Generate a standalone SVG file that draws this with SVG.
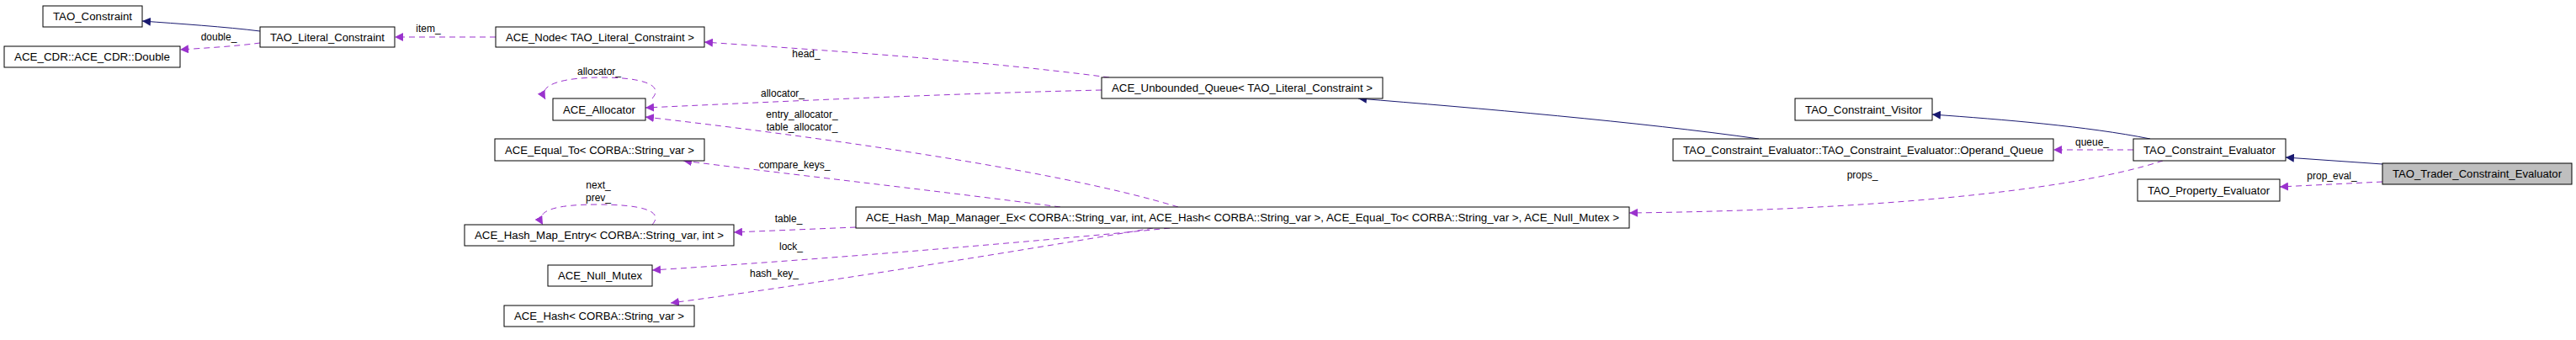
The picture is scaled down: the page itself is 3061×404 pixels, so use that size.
<svg xmlns="http://www.w3.org/2000/svg" width="3061" height="404" viewBox="0 0 3061 404">
<style>
.n rect{fill:#fff;stroke:#000;stroke-width:1}
.n text{font-family:"Liberation Sans",Arial,sans-serif;font-size:12px;text-anchor:middle}
.l{font-family:"Liberation Sans",Arial,sans-serif;font-size:12px;text-anchor:middle}
.s{fill:none;stroke:#191970;stroke-width:1}
.d{fill:none;stroke:#9a32cd;stroke-width:1;stroke-dasharray:7,5}
</style>
<defs>
<marker id="an" viewBox="0 0 10 10" refX="10" refY="5" markerWidth="10" markerHeight="10" markerUnits="userSpaceOnUse" orient="auto"><path d="M0,0L10,5L0,10z" fill="#191970"/></marker>
<marker id="ap" viewBox="0 0 10 10" refX="10" refY="5" markerWidth="10" markerHeight="10" markerUnits="userSpaceOnUse" orient="auto"><path d="M0,0L10,5L0,10z" fill="#9a32cd"/></marker>
</defs>
<rect width="3061" height="404" fill="#fff"/>
<g id="edges">
<path class="s" marker-end="url(#an)" d="M309,37 C270,32 210,28 169,25"/>
<path class="d" marker-end="url(#ap)" d="M309,51 C280,55 245,57 214,59"/>
<path class="d" marker-end="url(#ap)" d="M589,44 L469,44"/>
<path class="d" marker-end="url(#ap)" d="M1318,92 C1150,70 950,58 837,50"/>
<path class="d" marker-end="url(#ap)" d="M775,117 C790,100 760,92 715,92 C670,92 638,100 648,118"/>
<path class="d" marker-end="url(#ap)" d="M1309,107 C1100,112 900,122 767,128"/>
<path class="d" marker-end="url(#ap)" d="M1400,246 C1250,200 950,160 767,139"/>
<path class="d" marker-end="url(#ap)" d="M1260,246 C1100,225 920,205 812,191"/>
<path class="d" marker-end="url(#ap)" d="M1017,270 L872,276"/>
<path class="d" marker-end="url(#ap)" d="M775,267 C790,250 760,243 710,243 C660,243 635,250 645,267"/>
<path class="d" marker-end="url(#ap)" d="M1390,271 C1200,290 950,310 775,321"/>
<path class="d" marker-end="url(#ap)" d="M1370,271 C1200,300 950,340 797,360"/>
<path class="s" marker-end="url(#an)" d="M2090,165 C1950,145 1750,128 1614,117"/>
<path class="d" marker-end="url(#ap)" d="M2535,178 L2440,178"/>
<path class="s" marker-end="url(#an)" d="M2555,165 C2480,150 2380,142 2296,136"/>
<path class="d" marker-end="url(#ap)" d="M2570,191 C2450,230 2200,250 1936,253"/>
<path class="s" marker-end="url(#an)" d="M2831,195 L2716,187"/>
<path class="d" marker-end="url(#ap)" d="M2831,216 L2709,222"/>
</g>
<g id="labels">
<text class="l" x="260" y="48">double_</text>
<text class="l" x="509" y="38">item_</text>
<text class="l" x="958" y="68">head_</text>
<text class="l" x="712" y="89">allocator_</text>
<text class="l" x="930" y="115">allocator_</text>
<text class="l" x="953" y="140">entry_allocator_</text>
<text class="l" x="953" y="155">table_allocator_</text>
<text class="l" x="944" y="200">compare_keys_</text>
<text class="l" x="711" y="224">next_</text>
<text class="l" x="711" y="239">prev_</text>
<text class="l" x="937" y="264">table_</text>
<text class="l" x="940" y="297">lock_</text>
<text class="l" x="920" y="329">hash_key_</text>
<text class="l" x="2486" y="173">queue_</text>
<text class="l" x="2213" y="212">props_</text>
<text class="l" x="2771" y="213">prop_eval_</text>
</g>
<g id="TAO_Constraint" class="n"><rect x="51" y="7" width="118" height="25"/><text x="110" y="24" textLength="94" lengthAdjust="spacingAndGlyphs">TAO_Constraint</text></g>
<g id="TAO_Literal_Constraint" class="n"><rect x="309" y="32" width="160" height="24"/><text x="389" y="49" textLength="136" lengthAdjust="spacingAndGlyphs">TAO_Literal_Constraint</text></g>
<g id="ACE_CDR_Double" class="n"><rect x="5" y="55" width="209" height="25"/><text x="109.5" y="72" textLength="185" lengthAdjust="spacingAndGlyphs">ACE_CDR::ACE_CDR::Double</text></g>
<g id="ACE_Node" class="n"><rect x="589" y="32" width="248" height="24"/><text x="713" y="49" textLength="224" lengthAdjust="spacingAndGlyphs">ACE_Node&lt; TAO_Literal_Constraint &gt;</text></g>
<g id="ACE_Allocator" class="n"><rect x="657" y="117" width="110" height="26"/><text x="712" y="135" textLength="86" lengthAdjust="spacingAndGlyphs">ACE_Allocator</text></g>
<g id="ACE_Equal_To" class="n"><rect x="588" y="165" width="249" height="26"/><text x="712.5" y="183" textLength="225" lengthAdjust="spacingAndGlyphs">ACE_Equal_To&lt; CORBA::String_var &gt;</text></g>
<g id="ACE_Hash_Map_Entry" class="n"><rect x="552" y="267" width="320" height="25"/><text x="712" y="284" textLength="296" lengthAdjust="spacingAndGlyphs">ACE_Hash_Map_Entry&lt; CORBA::String_var, int &gt;</text></g>
<g id="ACE_Null_Mutex" class="n"><rect x="651" y="315" width="124" height="25"/><text x="713" y="332" textLength="100" lengthAdjust="spacingAndGlyphs">ACE_Null_Mutex</text></g>
<g id="ACE_Hash" class="n"><rect x="599" y="363" width="226" height="25"/><text x="712" y="380" textLength="202" lengthAdjust="spacingAndGlyphs">ACE_Hash&lt; CORBA::String_var &gt;</text></g>
<g id="ACE_Unbounded_Queue" class="n"><rect x="1309" y="92" width="334" height="25"/><text x="1476" y="109" textLength="310" lengthAdjust="spacingAndGlyphs">ACE_Unbounded_Queue&lt; TAO_Literal_Constraint &gt;</text></g>
<g id="ACE_Hash_Map_Manager_Ex" class="n"><rect x="1017" y="246" width="919" height="25"/><text x="1476.5" y="263" textLength="895" lengthAdjust="spacingAndGlyphs">ACE_Hash_Map_Manager_Ex&lt; CORBA::String_var, int, ACE_Hash&lt; CORBA::String_var &gt;, ACE_Equal_To&lt; CORBA::String_var &gt;, ACE_Null_Mutex &gt;</text></g>
<g id="TAO_Constraint_Visitor" class="n"><rect x="2133" y="117" width="163" height="26"/><text x="2214.5" y="135" textLength="139" lengthAdjust="spacingAndGlyphs">TAO_Constraint_Visitor</text></g>
<g id="Operand_Queue" class="n"><rect x="1988" y="165" width="452" height="26"/><text x="2214" y="183" textLength="428" lengthAdjust="spacingAndGlyphs">TAO_Constraint_Evaluator::TAO_Constraint_Evaluator::Operand_Queue</text></g>
<g id="TAO_Constraint_Evaluator" class="n"><rect x="2535" y="165" width="181" height="26"/><text x="2625.5" y="183" textLength="157" lengthAdjust="spacingAndGlyphs">TAO_Constraint_Evaluator</text></g>
<g id="TAO_Property_Evaluator" class="n"><rect x="2540" y="213" width="169" height="26"/><text x="2624.5" y="231" textLength="145" lengthAdjust="spacingAndGlyphs">TAO_Property_Evaluator</text></g>
<g id="TAO_Trader_Constraint_Evaluator" class="n"><rect x="2831" y="194" width="225" height="25" style="fill:#bfbfbf"/><text x="2943.5" y="211" textLength="201" lengthAdjust="spacingAndGlyphs">TAO_Trader_Constraint_Evaluator</text></g>
</svg>
